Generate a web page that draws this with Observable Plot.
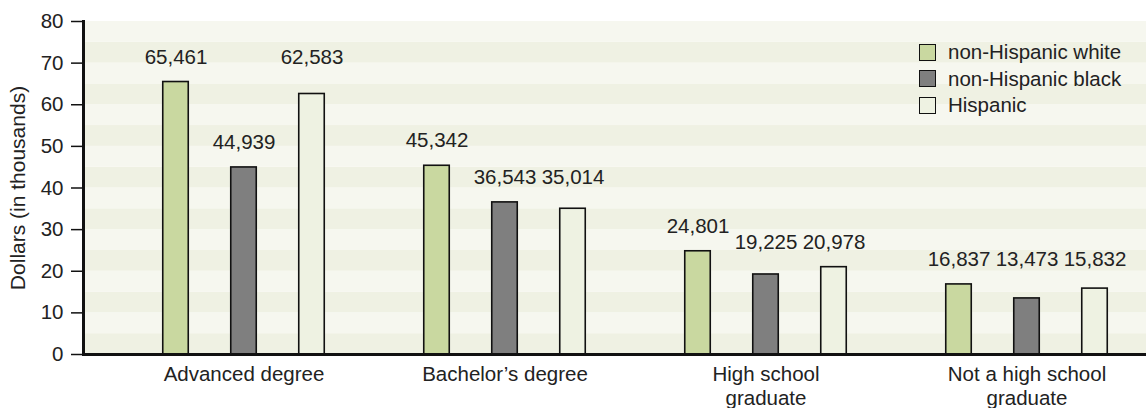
<!DOCTYPE html>
<html><head><meta charset="utf-8">
<script src="https://cdn.jsdelivr.net/npm/d3@7"></script>
<script src="https://cdn.jsdelivr.net/npm/@observablehq/plot@0.6"></script>
<style>
html,body{margin:0;padding:0;background:#fff;}
#wrap{position:relative;width:1146px;height:408px;font-family:"Liberation Sans",Arial,sans-serif;}
#wrap svg{display:block;}
.legend{position:absolute;left:919px;top:39px;font-size:20.5px;color:#222;}
.item{display:flex;align-items:center;height:26.5px;}
.sw{width:15px;height:15px;border:1.5px solid #111;margin-right:12px;}
</style></head><body><div id="wrap"></div>
<script>
// ---- data ----
const groups = ["Advanced degree", "Bachelor’s degree", "High school graduate", "Not a high school graduate"];
const groupLabels = ["Advanced degree", "Bachelor’s degree", "High school\ngraduate", "Not a high school\ngraduate"];
const series = ["non-Hispanic white", "non-Hispanic black", "Hispanic"];
const whiteIncome = [65461, 45342, 24801, 16837];
const blackIncome = [44939, 36543, 19225, 13473];
const hispanicIncome = [62583, 35014, 20978, 15832];
const yTicks = [0, 10, 20, 30, 40, 50, 60, 70, 80];

// ---- styles ----
const colors = ["#c9d8a0", "#7f7f7f", "#eef2e2"];
const stripeDark = "#eff1e3", stripeLight = "#f6f7ef";
const textColor = "#222";
const fontSize = 20.5;

const seriesValues = [whiteIncome, blackIncome, hispanicIncome];
const rows = [];
groups.forEach((g, gi) => {
  const vals = seriesValues.map(v => v[gi] / 1000);
  // labels of bars with close heights share one row (level of the tallest in the cluster)
  const sorted = vals.map((v, i) => ({v, i})).sort((a, b) => a.v - b.v);
  const clusters = [];
  sorted.forEach(d => {
    const c = clusters[clusters.length - 1];
    if (c && d.v - c[c.length - 1].v < 3) c.push(d); else clusters.push([d]);
  });
  const level = [];
  clusters.forEach(c => { const m = d3.max(c, d => d.v); c.forEach(d => level[d.i] = m); });
  series.forEach((s, si) => rows.push({group: g, series: s, si, value: vals[si], raw: seriesValues[si][gi], level: level[si]}));
});

const stripes = d3.range(0, 80, 5).map((y, i) => ({y1: y, y2: y + 5, fill: i % 2 ? stripeLight : stripeDark}));

const xRange = [112, 1158];
const bandW = (xRange[1] - xRange[0]) / groups.length;
const barW = 26, gap = 68;
const inset = (bandW - barW) / 2;
const offsets = [-gap, 0, gap];

const marks = [
  Plot.rect(stripes, {y1: "y1", y2: "y2", fill: "fill"})
];
series.forEach((s, si) => {
  const data = rows.filter(r => r.si === si);
  marks.push(Plot.barY(data, {x: "group", y: "value", fill: colors[si], stroke: "#111", strokeWidth: 1.6,
    insetLeft: inset, insetRight: inset, dx: offsets[si]}));
  marks.push(Plot.text(data, {x: "group", y: "level", text: d => d3.format(",")(d.raw), dx: offsets[si], dy: -25,
    fontSize, fill: textColor}));
});
marks.push(
  Plot.ruleY([0], {stroke: "#111", strokeWidth: 3}),
  Plot.frame({anchor: "left", stroke: "#111", strokeWidth: 3}),
  Plot.axisY(yTicks, {tickSize: 12, tickPadding: 8, fontSize, fill: textColor, stroke: "#111", strokeWidth: 1.5, label: null}),
  Plot.axisX({tickSize: 0, tickPadding: 10, fontSize, fill: textColor, lineHeight: 1.15, label: null,
    tickFormat: d => groupLabels[groups.indexOf(d)]}),
  Plot.text(["Dollars (in thousands)"], {frameAnchor: "left", textAnchor: "middle", rotate: -90, dx: -65, fontSize: 21, fill: textColor})
);

const chart = Plot.plot({
  width: 1146, height: 408,
  marginLeft: 83, marginRight: 0, marginTop: 21, marginBottom: 54,
  style: {fontFamily: "'Liberation Sans', Arial, sans-serif", background: "transparent"},
  x: {type: "band", domain: groups, range: xRange, padding: 0},
  y: {domain: [0, 80]},
  marks
});
const wrap = document.getElementById("wrap");
wrap.appendChild(chart);

const legend = document.createElement("div");
legend.className = "legend";
series.forEach((s, i) => {
  const it = document.createElement("div"); it.className = "item";
  const sw = document.createElement("span"); sw.className = "sw"; sw.style.background = colors[i];
  const t = document.createElement("span"); t.textContent = s;
  it.appendChild(sw); it.appendChild(t); legend.appendChild(it);
});
wrap.appendChild(legend);
</script></body></html>
